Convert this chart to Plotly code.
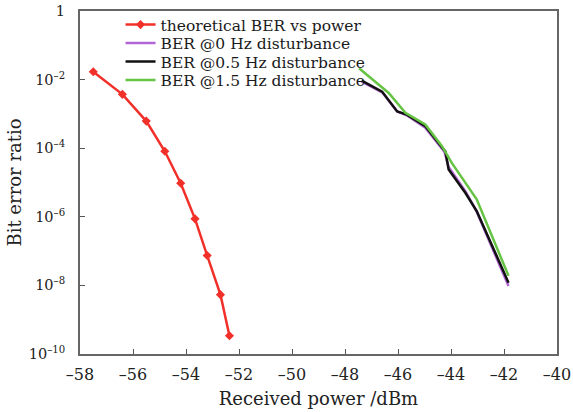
import plotly.graph_objects as go

# Theoretical BER vs received power
theo_power = [-57.5, -56.4, -55.5, -54.8, -54.2, -53.66, -53.2, -52.7, -52.36]
theo_log_ber = [-1.77, -2.43, -3.21, -4.09, -5.02, -6.06, -7.13, -8.27, -9.47]

# BER @0 Hz disturbance
p0_power = [-47.37, -46.60, -46.03, -45.67, -44.97, -44.25, -44.09, -43.46, -43.03, -41.83]
p0_log_ber = [-2.06, -2.37, -2.93, -3.04, -3.40, -4.10, -4.55, -5.25, -5.85, -8.02]

# BER @0.5 Hz disturbance
p05_power = [-47.37, -46.60, -46.03, -45.67, -44.97, -44.21, -44.09, -43.46, -43.03, -41.83]
p05_log_ber = [-2.03, -2.35, -2.93, -3.02, -3.36, -4.10, -4.62, -5.30, -5.83, -7.92]

# BER @1.5 Hz disturbance
p15_power = [-47.47, -46.35, -45.72, -44.97, -44.34, -43.97, -43.03, -41.83]
p15_log_ber = [-1.67, -2.39, -2.97, -3.31, -3.94, -4.43, -5.49, -7.72]

series_names = ["theoretical BER vs power", "BER @0 Hz disturbance",
                "BER @0.5 Hz disturbance", "BER @1.5 Hz disturbance"]

x_ticks = list(range(-58, -39, 2))
x_tick_text = ["\u2013%d" % (-v) for v in x_ticks]
y_tick_exps = [0, -2, -4, -6, -8, -10]
y_tick_text = ["1"] + ["10<sup>\u2013%d</sup>" % (-e) for e in y_tick_exps[1:]]

def to_ber(logs):
    return [10 ** v for v in logs]

fig = go.Figure()
fig.add_trace(go.Scatter(
    x=theo_power, y=to_ber(theo_log_ber), mode="lines+markers",
    name=series_names[0], legend="legend",
    line=dict(color="#f2302a", width=2.5),
    marker=dict(symbol="diamond", size=7, color="#f2302a"),
))
fig.add_trace(go.Scatter(
    x=p0_power, y=to_ber(p0_log_ber), mode="lines",
    name=series_names[1], legend="legend2",
    line=dict(color="#b266d6", width=2.5),
))
fig.add_trace(go.Scatter(
    x=p05_power, y=to_ber(p05_log_ber), mode="lines",
    name=series_names[2], legend="legend3",
    line=dict(color="#111111", width=2.5),
))
fig.add_trace(go.Scatter(
    x=p15_power, y=to_ber(p15_log_ber), mode="lines",
    name=series_names[3], legend="legend4",
    line=dict(color="#66c444", width=2.5),
))

font_family = "DejaVu Serif"
T, B, H = 11, 58, 412
plot_h = H - T - B

def legend_at(py):
    return dict(
        x=0.085, y=1 - (py - T) / plot_h, xanchor="left", yanchor="middle",
        bgcolor="rgba(0,0,0,0)", borderwidth=0,
        font=dict(family=font_family, size=15.5, color="#1a1a1a"),
        itemwidth=30,
    )

fig.update_layout(
    width=573, height=H,
    margin=dict(l=80, r=16, t=T, b=B, autoexpand=False),
    paper_bgcolor="white", plot_bgcolor="white",
    font=dict(family=font_family, size=15, color="#222222"),
    showlegend=True,
    legend=legend_at(25),
    legend2=legend_at(43.5),
    legend3=legend_at(62),
    legend4=legend_at(80.5),
)
fig.update_xaxes(
    range=[-58, -40], tickvals=x_ticks, ticktext=x_tick_text,
    ticks="inside", ticklen=5, tickcolor="#555555",
    showline=True, linecolor="#666666", linewidth=2, mirror=True,
    showgrid=False, zeroline=False, automargin=True,
    ticklabeloverflow="allow", ticklabelstandoff=5,
    tickfont=dict(size=16),
    title=dict(text="Received power /dBm", font=dict(size=18), standoff=9),
)
fig.update_yaxes(
    type="log", range=[-10, 0],
    tickvals=[10 ** e for e in y_tick_exps], ticktext=y_tick_text,
    ticks="inside", ticklen=5, tickcolor="#555555",
    showline=True, linecolor="#666666", linewidth=2, mirror=True,
    showgrid=False, zeroline=False, automargin=True,
    ticklabeloverflow="allow", ticklabelstandoff=10,
    tickfont=dict(size=14.5),
    title=dict(text="Bit error ratio", font=dict(size=18), standoff=2),
)

fig.write_html("out.html")
